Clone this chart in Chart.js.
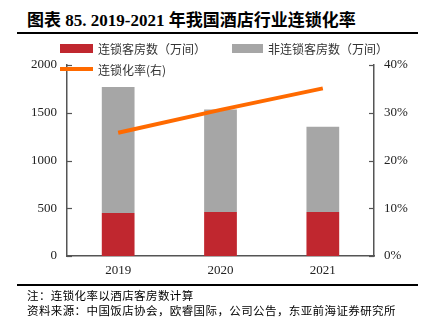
<!DOCTYPE html>
<html>
<head>
<meta charset="utf-8">
<script src="https://cdn.jsdelivr.net/npm/chart.js@4"></script>
<style>
  html, body { margin: 0; padding: 0; background: #fff; }
  #wrap { position: relative; width: 425px; height: 328px; overflow: hidden; }
  #title {
    position: absolute; left: 27px; top: 6px;
    font: bold 17px "Liberation Serif", "Noto Sans CJK SC", serif;
    color: #000; white-space: nowrap;
  }
  .rule { position: absolute; left: 17px; width: 401px; height: 2px; background: #000; }
  .note {
    position: absolute; left: 27px;
    font: 11.5px "Noto Sans CJK SC", sans-serif; color: #000; white-space: nowrap;
    letter-spacing: 0.4px;
  }
  canvas { position: absolute; left: 0; top: 0; }
</style>
</head>
<body>
<div id="wrap">
  <div id="title">图表 85. 2019-2021 年我国酒店行业连锁化率</div>
  <div class="rule" style="top:32px"></div>
  <canvas id="hotelChart" width="425" height="328"></canvas>
  <div class="rule" style="top:284px"></div>
  <div class="note" style="top:287px">注：连锁化率以酒店客房数计算</div>
  <div class="note" style="top:302px">资料来源：中国饭店协会，欧睿国际，公司公告，东亚前海证券研究所</div>
</div>
<script>
var years = ['2019', '2020', '2021'];
var chainRooms = [450, 460, 460];
var nonChainRooms = [1320, 1075, 893];
var chainRate = [25.8, 30.6, 35.1];
var leftTicks = [0, 500, 1000, 1500, 2000];
var rightTicks = [0, 10, 20, 30, 40];

var axisColor = '#555555';
var tickFont = { family: 'Liberation Serif', size: 13 };

// legend drawn by hand, it sits inside the plot in the original
var legendPlugin = {
  id: 'manualLegend',
  afterDraw: function (chart) {
    var ctx = chart.ctx;
    var ds = chart.data.datasets;
    ctx.save();
    ctx.font = '12px "Noto Sans CJK SC", sans-serif';
    ctx.textBaseline = 'middle';
    // row 1: bars
    ctx.fillStyle = ds[0].backgroundColor;
    ctx.fillRect(60, 44, 33, 9);
    ctx.fillStyle = ds[1].backgroundColor;
    ctx.fillRect(232, 44, 31, 9);
    ctx.fillStyle = '#333';
    ctx.fillText(ds[0].label, 98, 49);
    ctx.fillText(ds[1].label, 268, 49);
    // row 2: line
    ctx.strokeStyle = ds[2].borderColor;
    ctx.lineWidth = 4;
    ctx.beginPath();
    ctx.moveTo(60, 69);
    ctx.lineTo(93, 69);
    ctx.stroke();
    ctx.fillText(ds[2].label, 98, 70);
    ctx.restore();
  }
};

// tick marks point inward on both y axes
var innerTicks = {
  id: 'innerTicks',
  afterDraw: function (chart) {
    var ctx = chart.ctx;
    ctx.save();
    ctx.strokeStyle = axisColor;
    ctx.lineWidth = 1.2;
    ['y', 'y1'].forEach(function (id) {
      var sc = chart.scales[id];
      var x = id === 'y' ? sc.right : sc.left;
      var dir = id === 'y' ? 1 : -1;
      sc.ticks.forEach(function (t) {
        var py = Math.round(sc.getPixelForValue(t.value)) + 0.5;
        ctx.beginPath();
        ctx.moveTo(x, py);
        ctx.lineTo(x + dir * 5, py);
        ctx.stroke();
      });
    });
    ctx.restore();
  }
};

var ctx = document.getElementById('hotelChart').getContext('2d');
var hotelChart = new Chart(ctx, {
  data: {
    labels: years,
    datasets: [{
      type: 'bar',
      label: '连锁客房数（万间）',
      data: chainRooms,
      backgroundColor: '#C0272F',
      yAxisID: 'y',
      barPercentage: 0.32,
      categoryPercentage: 1,
      order: 2
    }, {
      type: 'bar',
      label: '非连锁客房数（万间）',
      data: nonChainRooms,
      backgroundColor: '#A6A6A6',
      yAxisID: 'y',
      barPercentage: 0.32,
      categoryPercentage: 1,
      order: 2
    }, {
      type: 'line',
      label: '连锁化率(右)',
      data: chainRate,
      borderColor: '#FF6A00',
      borderWidth: 4,
      pointRadius: 0,
      borderCapStyle: 'butt',
      yAxisID: 'y1',
      order: 1
    }]
  },
  options: {
    responsive: false,
    animation: false,
    layout: { padding: { top: 65, left: 0, right: 0, bottom: 0 } },
    plugins: { legend: { display: false }, title: { display: false }, tooltip: { enabled: false } },
    scales: {
      x: {
        stacked: true,
        grid: { display: false, drawTicks: false },
        border: { display: true, color: axisColor, width: 1.5 },
        ticks: { font: tickFont, color: '#222', padding: 7 },
        afterFit: function (s) { s.height = 72; }
      },
      y: {
        stacked: true,
        min: 0, max: 2000,
        afterBuildTicks: function (s) { s.ticks = leftTicks.map(function (v) { return { value: v }; }); },
        grid: { display: false, drawTicks: false },
        border: { display: true, color: axisColor, width: 1.5 },
        ticks: { font: tickFont, color: '#222', padding: 10, callback: function (v) { return String(v); } },
        afterFit: function (s) { s.width = 67; }
      },
      y1: {
        position: 'right',
        stacked: false,
        min: 0, max: 40,
        afterBuildTicks: function (s) { s.ticks = rightTicks.map(function (v) { return { value: v }; }); },
        grid: { display: false, drawTicks: false },
        border: { display: true, color: axisColor, width: 1.5 },
        ticks: { font: tickFont, color: '#222', padding: 10, callback: function (v) { return v + '%'; } },
        afterFit: function (s) { s.width = 51; }
      }
    }
  },
  plugins: [innerTicks, legendPlugin]
});
</script>
</body>
</html>
